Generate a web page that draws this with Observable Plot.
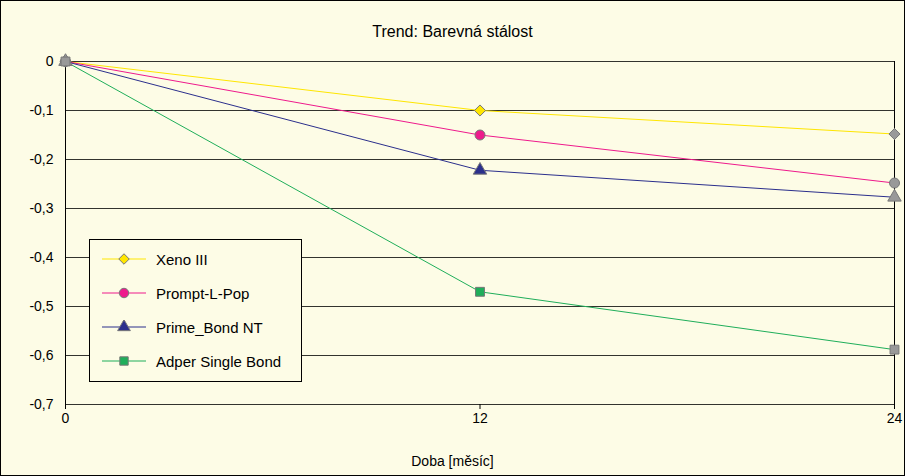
<!DOCTYPE html>
<html><head><meta charset="utf-8">
<script src="https://cdn.jsdelivr.net/npm/d3@7"></script>
<script src="https://cdn.jsdelivr.net/npm/@observablehq/plot@0.6"></script>
<style>
body{margin:0;background:#fff;font-family:Arial,"Liberation Sans",sans-serif}
#wrap{position:relative;width:903px;height:474px;border:1px solid #000;background:#fdfce6}
#title{height:45px;line-height:62px;text-align:center;font-size:16px}
#xl{position:absolute;top:452px;width:100%;text-align:center;font-size:14px}
#legend{position:absolute;left:88px;top:238px;width:211px;height:139px;border:1px solid #000;background:#fdfce6;font-size:15px}
#legend div{height:34px;display:flex;align-items:center}
#legend svg{margin:0 10px 0 12px}
</style></head><body>
<div id="wrap"><div id="title">Trend: Barevná stálost</div><div id="chart"></div>
<div id="xl">Doba [měsíc]</div><div id="legend"></div></div>
<script>
const months = [0, 12, 24];
const series = ["Xeno III", "Prompt-L-Pop", "Prime_Bond NT", "Adper Single Bond"];
const colors = ["#ffe600", "#ee1a8c", "#2b2f8c", "#1fae5a"];
const symbols = ["diamond2", "circle", "triangle", "square"];
const legendSymbols = [d3.symbolDiamond2, d3.symbolCircle, d3.symbolTriangle, d3.symbolSquare];
const values = [
  [0, -0.1, -0.148],
  [0, -0.15, -0.248],
  [0, -0.222, -0.277],
  [0, -0.47, -0.588]
];
const yTicks = [-0.7, -0.6, -0.5, -0.4, -0.3, -0.2, -0.1, 0];
const data = series.flatMap((s, i) => months.map((m, j) => ({s, m, v: values[i][j], i})));
const fmt = d => d === 0 ? "0" : d.toFixed(1).replace(".", ",");
const chart = Plot.plot({
  width: 903, height: 400, marginLeft: 64, marginRight: 10, marginTop: 15, marginBottom: 42,
  style: {background: "transparent", fontSize: "14px", fontFamily: "Arial, Liberation Sans, sans-serif", color: "#000"},
  x: {domain: [0, 24], ticks: months, tickFormat: d => d, label: null, tickSize: 5},
  y: {domain: [-0.7, 0], ticks: yTicks, tickFormat: fmt, label: null, tickSize: 0, tickPadding: 12},
  marks: [
    Plot.gridY(yTicks, {stroke: "#000", strokeOpacity: 0.8}),
    Plot.ruleX([24], {stroke: "#000"}),
    Plot.ruleX([0], {stroke: "#000"}),
    Plot.line(data, {x: "m", y: "v", z: "s", stroke: d => colors[d.i], strokeWidth: 1}),
    Plot.dot(data, {x: "m", y: "v", symbol: d => symbols[d.i], r: 5,
      fill: d => d.m === 12 ? colors[d.i] : "#999", stroke: "#777", strokeWidth: 1})
  ]
});
document.getElementById("chart").append(chart);
const lg = d3.select("#legend").style("padding-top", "2px");
series.forEach((s, i) => {
  const row = lg.append("div");
  const sv = row.append("svg").attr("width", 44).attr("height", 14);
  sv.append("line").attr("x1", 0).attr("x2", 44).attr("y1", 7).attr("y2", 7).attr("stroke", colors[i]);
  sv.append("path").attr("transform", "translate(22,7)")
    .attr("d", d3.symbol(legendSymbols[i], 70)())
    .attr("fill", colors[i]).attr("stroke", "#777");
  row.append("span").text(s);
});
</script></body></html>
